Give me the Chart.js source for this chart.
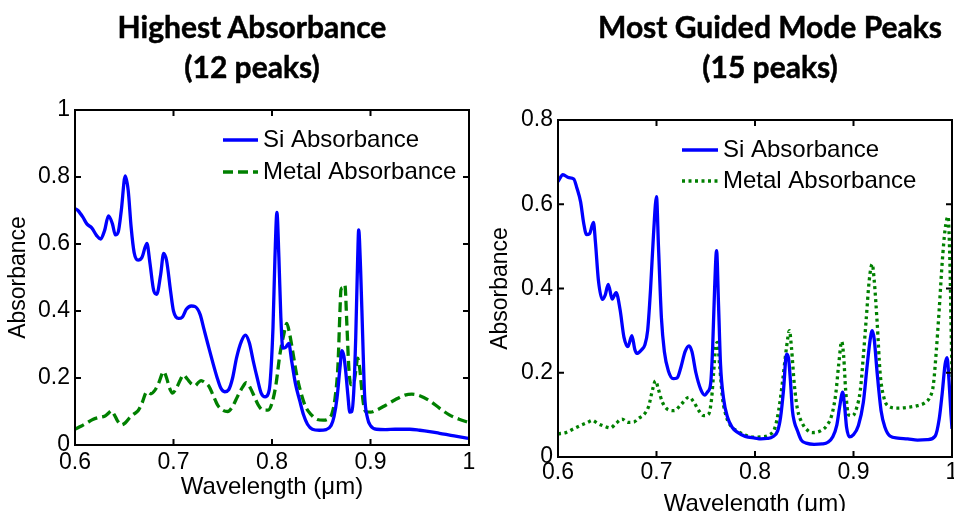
<!DOCTYPE html>
<html>
<head>
<meta charset="utf-8">
<script src="https://cdn.jsdelivr.net/npm/chart.js@4.4.1/dist/chart.umd.min.js"></script>
<style>
  html, body { margin: 0; padding: 0; background: #fff; overflow: hidden; }
  body { width: 954px; height: 511px; position: relative; }
  .box { position: absolute; top: 0; }
  #left { left: 0; width: 480px; height: 511px; }
  #right { left: 480px; width: 520px; height: 540px; }
  .title {
    position: absolute; top: 6px; width: 400px; margin-left: -200px;
    text-align: center; font: bold 30px/40px Lato, sans-serif; color: #000;
    -webkit-text-stroke: 0.5px #000; white-space: nowrap;
  }
</style>
</head>
<body>
<div class="box" id="left"><canvas id="c1"></canvas></div>
<div class="box" id="right"><canvas id="c2"></canvas></div>
<div class="title" id="t1" style="left:252px"></div>
<div class="title" id="t2" style="left:770px"></div>
<script>
// panel titles
const titleA = ['Highest Absorbance', '(12 peaks)'];
const titleB = ['Most Guided Mode Peaks', '(15 peaks)'];

// axis ticks
const xTickValues = [0.6, 0.7, 0.8, 0.9, 1.0];
const xTickLabels = ['0.6', '0.7', '0.8', '0.9', '1'];
const yTickValuesA = [0, 0.2, 0.4, 0.6, 0.8, 1.0];
const yTickLabelsA = ['0', '0.2', '0.4', '0.6', '0.8', '1'];
const yTickValuesB = [0, 0.2, 0.4, 0.6, 0.8];
const yTickLabelsB = ['0', '0.2', '0.4', '0.6', '0.8'];

// left panel: Highest Absorbance (12 peaks)
const siWlA = [0.600,0.603,0.608,0.612,0.617,0.622,0.626,0.630,0.634,0.638,0.641,0.644,0.647,0.651,0.654,0.657,0.660,0.664,0.668,0.673,0.676,0.680,0.683,0.687,0.690,0.693,0.697,0.700,0.705,0.709,0.713,0.718,0.722,0.727,0.731,0.735,0.740,0.744,0.748,0.752,0.756,0.760,0.764,0.769,0.773,0.777,0.781,0.785,0.789,0.793,0.796,0.798,0.801,0.803,0.805,0.807,0.809,0.811,0.814,0.817,0.820,0.824,0.828,0.832,0.836,0.841,0.848,0.855,0.860,0.863,0.866,0.869,0.871,0.873,0.875,0.877,0.879,0.881,0.883,0.885,0.887,0.888,0.890,0.892,0.894,0.897,0.900,0.906,0.915,0.925,0.940,0.950,0.960,0.970,0.985,1.000];
const siAbsA = [0.706,0.700,0.680,0.660,0.648,0.625,0.615,0.640,0.684,0.660,0.627,0.637,0.700,0.803,0.760,0.650,0.575,0.552,0.560,0.602,0.545,0.460,0.450,0.510,0.572,0.550,0.460,0.400,0.378,0.382,0.405,0.415,0.413,0.390,0.345,0.300,0.245,0.204,0.170,0.159,0.165,0.200,0.260,0.310,0.328,0.305,0.250,0.200,0.155,0.144,0.152,0.184,0.350,0.560,0.694,0.560,0.380,0.289,0.292,0.303,0.250,0.180,0.134,0.090,0.062,0.047,0.044,0.046,0.058,0.085,0.140,0.230,0.282,0.265,0.215,0.150,0.098,0.100,0.160,0.320,0.560,0.642,0.520,0.330,0.150,0.080,0.058,0.047,0.046,0.047,0.047,0.044,0.040,0.035,0.027,0.020];
const metalWlA = [0.600,0.606,0.612,0.618,0.624,0.630,0.634,0.637,0.640,0.643,0.647,0.651,0.656,0.660,0.664,0.668,0.673,0.677,0.681,0.685,0.690,0.693,0.696,0.699,0.703,0.707,0.710,0.714,0.718,0.722,0.725,0.728,0.732,0.736,0.740,0.745,0.750,0.755,0.760,0.765,0.770,0.774,0.778,0.782,0.786,0.791,0.796,0.800,0.804,0.808,0.812,0.815,0.818,0.821,0.825,0.829,0.834,0.840,0.846,0.852,0.857,0.861,0.864,0.867,0.869,0.870,0.872,0.874,0.876,0.878,0.880,0.883,0.885,0.887,0.889,0.891,0.893,0.895,0.900,0.906,0.915,0.925,0.935,0.942,0.950,0.960,0.970,0.980,0.990,1.000];
const metalAbsA = [0.047,0.056,0.066,0.076,0.082,0.086,0.095,0.102,0.090,0.073,0.060,0.066,0.083,0.093,0.102,0.125,0.159,0.153,0.163,0.185,0.219,0.200,0.170,0.155,0.170,0.195,0.209,0.197,0.183,0.177,0.186,0.192,0.186,0.175,0.150,0.118,0.104,0.100,0.115,0.145,0.172,0.186,0.170,0.145,0.120,0.104,0.104,0.125,0.180,0.270,0.330,0.363,0.330,0.280,0.210,0.160,0.115,0.090,0.076,0.074,0.078,0.095,0.140,0.240,0.400,0.463,0.470,0.478,0.360,0.230,0.180,0.185,0.220,0.259,0.230,0.170,0.120,0.100,0.098,0.104,0.118,0.135,0.149,0.152,0.147,0.132,0.110,0.090,0.077,0.067];

// right panel: Most Guided Mode Peaks (15 peaks)
const siWlB = [0.600,0.605,0.611,0.616,0.619,0.623,0.626,0.629,0.632,0.636,0.638,0.641,0.645,0.648,0.651,0.655,0.659,0.663,0.667,0.671,0.675,0.678,0.680,0.685,0.688,0.691,0.694,0.697,0.700,0.702,0.705,0.708,0.712,0.717,0.721,0.725,0.729,0.733,0.736,0.740,0.745,0.749,0.752,0.755,0.757,0.759,0.761,0.763,0.765,0.768,0.772,0.777,0.782,0.790,0.800,0.806,0.812,0.818,0.823,0.826,0.829,0.832,0.834,0.836,0.838,0.840,0.843,0.847,0.852,0.860,0.868,0.874,0.879,0.883,0.886,0.889,0.891,0.893,0.896,0.900,0.905,0.910,0.914,0.917,0.919,0.921,0.924,0.928,0.932,0.937,0.945,0.955,0.965,0.975,0.983,0.987,0.990,0.993,0.995,0.997,0.999,1.000];
const siAbsB = [0.654,0.670,0.663,0.660,0.640,0.605,0.556,0.528,0.530,0.557,0.510,0.420,0.374,0.385,0.410,0.375,0.390,0.350,0.284,0.262,0.288,0.255,0.246,0.255,0.265,0.300,0.400,0.530,0.618,0.500,0.330,0.250,0.205,0.186,0.188,0.215,0.250,0.264,0.250,0.200,0.160,0.147,0.155,0.175,0.260,0.400,0.490,0.360,0.220,0.140,0.095,0.070,0.059,0.049,0.045,0.043,0.044,0.048,0.062,0.095,0.160,0.244,0.235,0.180,0.110,0.083,0.063,0.040,0.033,0.030,0.031,0.035,0.048,0.075,0.120,0.154,0.120,0.070,0.048,0.053,0.075,0.130,0.220,0.280,0.300,0.280,0.200,0.110,0.070,0.050,0.045,0.043,0.040,0.041,0.050,0.090,0.150,0.220,0.236,0.180,0.100,0.067];
const metalWlB = [0.600,0.608,0.615,0.623,0.630,0.635,0.640,0.647,0.653,0.659,0.665,0.671,0.677,0.682,0.687,0.692,0.696,0.699,0.702,0.706,0.712,0.718,0.725,0.733,0.738,0.743,0.748,0.753,0.756,0.758,0.760,0.762,0.764,0.767,0.771,0.776,0.782,0.790,0.799,0.807,0.814,0.820,0.824,0.828,0.832,0.835,0.837,0.840,0.843,0.848,0.853,0.858,0.863,0.868,0.873,0.878,0.882,0.885,0.888,0.890,0.892,0.895,0.899,0.903,0.907,0.910,0.913,0.916,0.919,0.921,0.924,0.927,0.931,0.936,0.945,0.955,0.965,0.972,0.977,0.981,0.984,0.987,0.990,0.993,0.996,0.998,0.999,1.000];
const metalAbsB = [0.055,0.058,0.066,0.075,0.082,0.087,0.080,0.073,0.069,0.080,0.090,0.082,0.083,0.092,0.100,0.120,0.160,0.181,0.160,0.130,0.112,0.110,0.125,0.142,0.130,0.110,0.098,0.102,0.140,0.200,0.260,0.272,0.220,0.140,0.095,0.072,0.062,0.052,0.047,0.048,0.052,0.068,0.110,0.180,0.260,0.300,0.260,0.170,0.115,0.080,0.064,0.058,0.059,0.064,0.075,0.100,0.150,0.220,0.274,0.240,0.160,0.100,0.098,0.115,0.160,0.240,0.330,0.420,0.458,0.420,0.320,0.200,0.140,0.120,0.116,0.118,0.122,0.128,0.140,0.170,0.250,0.350,0.460,0.540,0.571,0.450,0.320,0.190];

const TICK_FONT = { family: 'Liberation Sans, Arial, sans-serif', size: 23 };
const LABEL_FONT = { family: 'Liberation Sans, Arial, sans-serif', size: 24 };

document.getElementById('t1').innerHTML = titleA.join('<br>');
document.getElementById('t2').innerHTML = titleB.join('<br>');

const pairs = (xs, ys) => xs.map((v, i) => ({ x: v, y: ys[i] }));

// box around the plot with inward ticks on all four sides
const framePlugin = {
  id: 'frame',
  afterDatasetsDraw(chart) {
    const { ctx, chartArea: a, scales: { x, y } } = chart;
    const len = 6;
    ctx.save();
    ctx.strokeStyle = '#000';
    ctx.lineWidth = 2;
    ctx.setLineDash([]);
    ctx.strokeRect(a.left, a.top, a.right - a.left, a.bottom - a.top);
    ctx.beginPath();
    x.ticks.forEach(t => {
      const px = x.getPixelForValue(t.value);
      ctx.moveTo(px, a.bottom); ctx.lineTo(px, a.bottom - len);
      ctx.moveTo(px, a.top); ctx.lineTo(px, a.top + len);
    });
    y.ticks.forEach(t => {
      const py = y.getPixelForValue(t.value);
      ctx.moveTo(a.left, py); ctx.lineTo(a.left + len, py);
      ctx.moveTo(a.right, py); ctx.lineTo(a.right - len, py);
    });
    ctx.stroke();
    ctx.restore();
  }
};

// legend drawn inside the axes, no border (matlab style)
const innerLegend = {
  id: 'innerLegend',
  afterDraw(chart, args, opts) {
    const { ctx, chartArea: a } = chart;
    ctx.save();
    ctx.font = opts.fontSize + 'px ' + TICK_FONT.family;
    ctx.textBaseline = 'middle';
    ctx.fillStyle = '#000';
    chart.data.datasets.forEach((ds, i) => {
      const x0 = a.left + opts.left;
      const yy = a.top + opts.top + i * opts.gap;
      ctx.strokeStyle = ds.borderColor;
      ctx.lineWidth = ds.borderWidth;
      ctx.setLineDash(ds.borderDash || []);
      ctx.beginPath();
      ctx.moveTo(x0, yy);
      ctx.lineTo(x0 + opts.lineLength, yy);
      ctx.stroke();
      ctx.fillText(ds.label, x0 + opts.lineLength + 5, yy);
    });
    ctx.restore();
  }
};

function makeChart(id, cfg) {
  return new Chart(document.getElementById(id), {
    type: 'line',
    data: {
      datasets: [
        {
          label: 'Si Absorbance',
          data: cfg.si,
          borderColor: '#0000FF',
          borderWidth: 3.3,
          pointRadius: 0,
          cubicInterpolationMode: 'monotone',
        },
        {
          label: 'Metal Absorbance',
          data: cfg.metal,
          borderColor: '#008000',
          borderWidth: 3.3,
          borderDash: cfg.dash,
          pointRadius: 0,
          cubicInterpolationMode: 'monotone',
        },
      ],
    },
    options: {
      responsive: true,
      maintainAspectRatio: false,
      animation: false,
      events: [],
      layout: { padding: { left: 0, right: cfg.padRight, top: cfg.padTop, bottom: 0 } },
      plugins: {
        legend: { display: false },
        tooltip: { enabled: false },
        title: { display: false },
        innerLegend: cfg.legend,
      },
      scales: {
        x: {
          type: 'linear',
          min: 0.6,
          max: 1.0,
          afterBuildTicks: (s) => { s.ticks = xTickValues.map(v => ({ value: v })); },
          afterFit: (s) => { s.height = cfg.xHeight; },
          grid: { display: false, drawTicks: false },
          border: { display: false },
          ticks: {
            color: '#000',
            font: TICK_FONT,
            padding: cfg.xPad,
            maxRotation: 0,
            callback: (v, i) => xTickLabels[i],
          },
          title: {
            display: true,
            text: 'Wavelength (\u03bcm)',
            color: '#000',
            font: LABEL_FONT,
            padding: { top: 0, bottom: cfg.xTitlePad },
          },
        },
        y: {
          min: 0,
          max: cfg.yMax,
          afterBuildTicks: (s) => { s.ticks = cfg.yTicks.map(v => ({ value: v })); },
          afterFit: (s) => { s.width = cfg.yWidth; },
          grid: { display: false, drawTicks: false },
          border: { display: false },
          ticks: {
            color: '#000',
            font: TICK_FONT,
            padding: 5,
            callback: (v, i) => cfg.yLabels[i],
          },
          title: {
            display: true,
            text: 'Absorbance',
            color: '#000',
            font: TICK_FONT,
            padding: { top: cfg.yTitlePad, bottom: 0 },
          },
        },
      },
    },
    plugins: [framePlugin, innerLegend],
  });
}

makeChart('c1', {
  si: pairs(siWlA, siAbsA),
  metal: pairs(metalWlA, metalAbsA),
  dash: [10, 5],
  padTop: 110,
  padRight: 11,
  xHeight: 66,
  xPad: 4,
  xTitlePad: 9,
  yWidth: 75,
  yTitlePad: 5,
  yMax: 1.0,
  yTicks: yTickValuesA,
  yLabels: yTickLabelsA,
  legend: { left: 148, top: 30, gap: 32, lineLength: 35, fontSize: 24 },
});

makeChart('c2', {
  si: pairs(siWlB, siAbsB),
  metal: pairs(metalWlB, metalAbsB),
  dash: [3, 3.5],
  padTop: 120,
  padRight: 48,
  xHeight: 83,
  xPad: 2,
  xTitlePad: 21,
  yWidth: 78,
  yTitlePad: 7,
  yMax: 0.8,
  yTicks: yTickValuesB,
  yLabels: yTickLabelsB,
  legend: { left: 124, top: 30, gap: 31, lineLength: 36, fontSize: 24 },
});
</script>
</body>
</html>
